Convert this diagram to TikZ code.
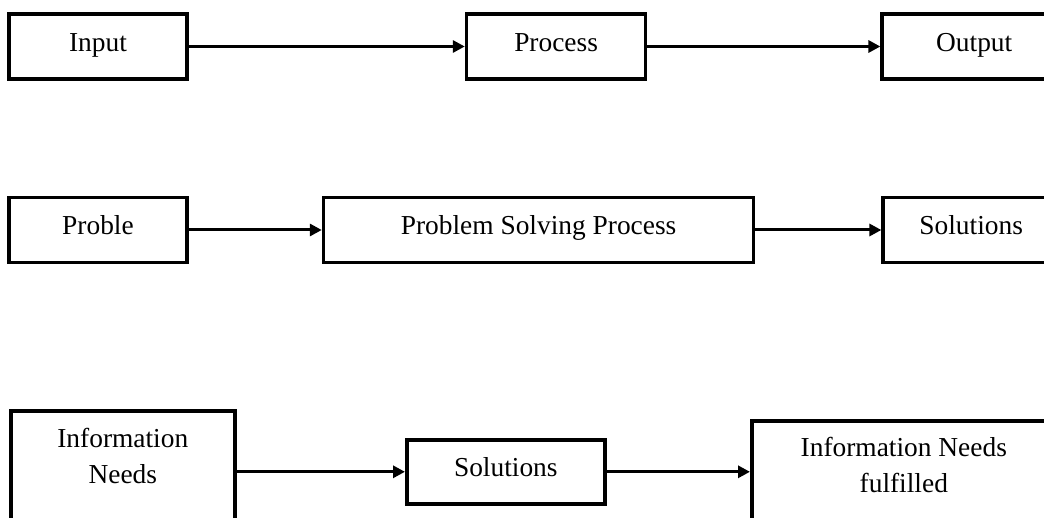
\documentclass[tikz,border=0pt]{standalone}
\usepackage{fontspec}
\setmainfont{Liberation Serif}
\usetikzlibrary{arrows.meta,positioning}

\begin{document}
\begin{tikzpicture}[
  x=0.5pt,y=-0.5pt,
  stagebox/.style={draw=black,line width=1.8pt,fill=white,minimum height=32.5pt,
    inner sep=0pt,text height=9.4pt,text depth=4.8pt,font=\fontsize{13.7}{18}\selectfont},
  tallbox/.style={stagebox,align=center,anchor=north west,inner ysep=8.8pt,text height={},text depth=60pt},
  arr/.style={-{Triangle[length=6pt,width=6pt]},line width=1.5pt}
]
\useasboundingbox (0,0) rectangle (1044,518);
\clip (0,0) rectangle (1044,518);
% input -> process -> output
\node[stagebox,minimum width=89pt] (input) at (98,46.5) {Input};
\node[stagebox,minimum width=89.5pt,right=138pt of input] (process) {Process};
\node[stagebox,minimum width=92pt,right=116.5pt of process] (output) {Output};
% problem -> solving -> solutions
\node[stagebox,minimum width=89pt] (proble) at (98,230) {Proble};
\node[stagebox,minimum width=215pt,right=66.5pt of proble] (solving) {Problem Solving Process};
\node[stagebox,minimum width=88pt,right=63pt of solving] (solutions) {Solutions};
% information needs
\node[tallbox,minimum width=112pt] (needs) at (9,409) {Information\\Needs};
\node[stagebox,minimum width=99pt,minimum height=32pt,anchor=north west] (found) at (405,438) {Solutions};
\node[tallbox,minimum width=152pt,inner ysep=8.3pt] (fulfilled) at (750,419) {Information Needs\\fulfilled};
\draw[arr] (input) -- (process);
\draw[arr] (process) -- (output);
\draw[arr] (proble) -- (solving);
\draw[arr] (solving) -- (solutions);
\draw[arr] (found.west -| needs.east) -- (found.west);
\draw[arr] (found.east) -- (found.east -| fulfilled.west);
\end{tikzpicture}
\end{document}
